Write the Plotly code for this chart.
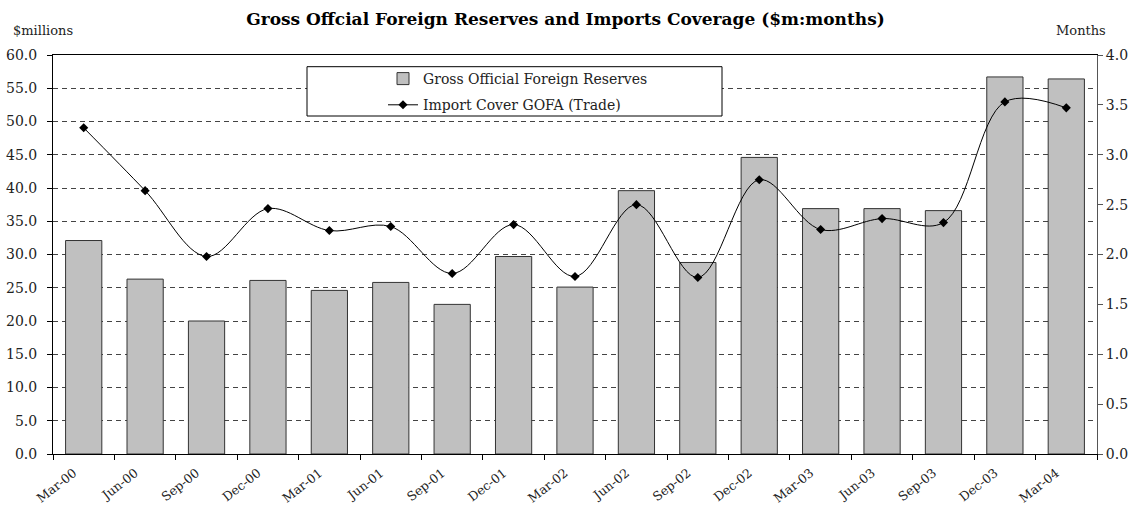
import plotly.graph_objects as go

categories = ["Mar-00", "Jun-00", "Sep-00", "Dec-00", "Mar-01", "Jun-01", "Sep-01",
              "Dec-01", "Mar-02", "Jun-02", "Sep-02", "Dec-02", "Mar-03", "Jun-03",
              "Sep-03", "Dec-03", "Mar-04"]
reserves = [32.1, 26.3, 20.0, 26.1, 24.6, 25.8, 22.5, 29.7, 25.1, 39.6, 28.8, 44.6,
            36.9, 36.9, 36.6, 56.7, 56.4]
import_cover = [3.27, 2.64, 1.98, 2.46, 2.24, 2.28, 1.81, 2.30, 1.78, 2.50, 1.77, 2.75,
                2.25, 2.36, 2.32, 3.53, 3.47]

FONT = "DejaVu Serif"
TXT = "#222222"

W, H = 1131, 508
L, R, T, B = 53, 34, 55, 54
PW, PH = W - L - R, H - T - B


def px_x(x):
    return (x - L) / PW


def px_y(y):
    return (H - B - y) / PH


fig = go.Figure()
fig.add_trace(go.Bar(
    x=categories, y=reserves, name="Gross Official Foreign Reserves",
    marker=dict(color="#C0C0C0", line=dict(color="#333333", width=1)),
    yaxis="y", legendgroup="a",
))
fig.add_trace(go.Scatter(
    x=categories, y=import_cover, name="Import Cover GOFA (Trade)",
    mode="lines+markers", yaxis="y2", legendgroup="b",
    line=dict(color="#000000", width=1, shape="spline", smoothing=1.0),
    marker=dict(symbol="diamond", size=7, color="#000000"),
))

fig.update_layout(
    width=W, height=H,
    margin=dict(l=L, r=R, t=T, b=B),
    paper_bgcolor="white", plot_bgcolor="white",
    font=dict(family=FONT, size=13, color=TXT),
    bargap=0.41,
    showlegend=True,
    title=dict(text="<b>Gross Offcial Foreign Reserves and Imports Coverage ($m:months)</b>",
               x=0.5, xanchor="center", y=1 - 19 / H, yanchor="middle",
               font=dict(family=FONT, size=17, color="#000000")),
    legend=dict(x=px_x(383), y=px_y(63), xanchor="left", yanchor="top",
                bgcolor="rgba(0,0,0,0)", borderwidth=0,
                font=dict(family=FONT, size=14, color=TXT),
                tracegroupgap=5, itemwidth=30),
    xaxis=dict(
        type="category", range=[-0.5, len(categories) - 0.5],
        tickson="boundaries", ticks="outside", ticklen=5,
        tickcolor="#000000", tickangle=-38, showline=True, linecolor="#000000",
        linewidth=1, mirror=True, showgrid=False, automargin=False,
        ticklabelshift=-10, ticklabelstandoff=6,
        tickfont=dict(family=FONT, size=12.5, color=TXT),
    ),
    yaxis=dict(
        range=[0, 60], dtick=5, tickformat=".1f", ticks="outside", ticklen=5,
        tickcolor="#000000", showline=True, linecolor="#000000", linewidth=1,
        showgrid=True, gridcolor="#444444", griddash="5px,4px", gridwidth=1,
        zeroline=False, automargin=False, ticklabelstandoff=7,
        tickfont=dict(family=FONT, size=14, color=TXT),
    ),
    yaxis2=dict(
        range=[0, 4], dtick=0.5, tickformat=".1f", ticks="outside", ticklen=5,
        tickcolor="#555555", overlaying="y", side="right", showline=True,
        linecolor="#555555", linewidth=1, showgrid=False, zeroline=False,
        automargin=False,
        tickfont=dict(family=FONT, size=14, color=TXT),
    ),
    shapes=[dict(type="rect", xref="paper", yref="paper",
                 x0=px_x(307), x1=px_x(722), y0=px_y(116), y1=px_y(66.7),
                 line=dict(color="#000000", width=1), fillcolor="white", layer="above")],
    annotations=[
        dict(text="$millions", xref="paper", yref="paper", x=px_x(11), y=px_y(30),
             xanchor="left", yanchor="middle", showarrow=False,
             font=dict(family=FONT, size=13, color=TXT)),
        dict(text="Months", xref="paper", yref="paper", x=px_x(1081), y=px_y(30),
             xanchor="center", yanchor="middle", showarrow=False,
             font=dict(family=FONT, size=13, color=TXT)),
    ],
)

fig.write_html("out.html", config={"displayModeBar": False},
               post_script="document.body.style.margin='0px';")
